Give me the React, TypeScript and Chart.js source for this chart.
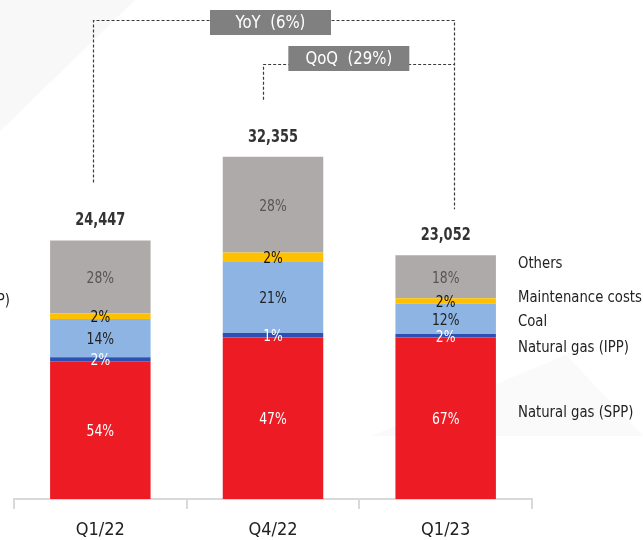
import React, { useEffect, useRef } from "react";
import { Chart, registerables } from "chart.js";

Chart.register(...registerables);

// ---------- data ----------
const categories = ["Q1/22", "Q4/22", "Q1/23"];
const totalLabels = ["24,447", "32,355", "23,052"];
const seriesNames = ["Natural gas (SPP)", "Natural gas (IPP)", "Coal", "Maintenance costs", "Others"];
const gasSPP = [13036, 15265, 15283];
const gasIPP = [360, 427, 323];
const coal = [3620, 6782, 2882];
const maintenance = [558, 841, 484];
const others = [6873, 9040, 4080];
const gasSPPPct = ["54%", "47%", "67%"];
const gasIPPPct = ["2%", "1%", "2%"];
const coalPct = ["14%", "21%", "12%"];
const maintenancePct = ["2%", "2%", "2%"];
const othersPct = ["28%", "28%", "18%"];
const yoyLabel = "YoY  (6%)";
const qoqLabel = "QoQ  (29%)";

const FONT = '"DejaVu Sans Condensed", "Liberation Sans Narrow", "Noto Sans", sans-serif';

const colors = ["#ED1C24", "#2E50B4", "#8DB4E2", "#FFC000", "#AEAAA9"];
const pctTextColors = ["#FFFFFF", "#FFFFFF", "#222222", "#111111", "#555555"];
const pctLabels = [gasSPPPct, gasIPPPct, coalPct, maintenancePct, othersPct];
const seriesData = [gasSPP, gasIPP, coal, maintenance, others];

function drawText(ctx: CanvasRenderingContext2D, text: string, x: number, y: number, font: string, color: string, sx: number, align: CanvasTextAlign) {
  ctx.save();
  ctx.translate(x, y);
  ctx.scale(sx, 1);
  ctx.font = font;
  ctx.fillStyle = color;
  ctx.textAlign = align;
  ctx.textBaseline = "middle";
  ctx.fillText(text, 0, 0);
  ctx.restore();
}

const overlayPlugin = {
  id: "overlay",
  beforeDraw(chart: any) {
    const ctx = chart.ctx;
    ctx.save();
    ctx.fillStyle = "#FFFFFF";
    ctx.fillRect(0, 0, chart.width, chart.height);
    // faint background watermark shapes
    ctx.fillStyle = "#F8F8F8";
    ctx.beginPath();
    ctx.moveTo(0, 0);
    ctx.lineTo(135, 0);
    ctx.lineTo(0, 131);
    ctx.closePath();
    ctx.fill();
    ctx.fillStyle = "#FAFAFA";
    ctx.beginPath();
    ctx.moveTo(566, 355);
    ctx.lineTo(643, 436);
    ctx.lineTo(371, 436);
    ctx.closePath();
    ctx.fill();
    ctx.restore();
  },
  afterDraw(chart: any) {
    const ctx = chart.ctx;
    const area = chart.chartArea;
    ctx.save();

    // percentage labels inside segments
    for (let d = 0; d < seriesData.length; d++) {
      const meta = chart.getDatasetMeta(d);
      meta.data.forEach((el: any, i: number) => {
        const yc = (el.y + el.base) / 2 + 2;
        drawText(ctx, pctLabels[d][i], el.x, yc, `16px ${FONT}`, pctTextColors[d], 0.86, "center");
      });
    }

    // totals above bars
    const topMeta = chart.getDatasetMeta(seriesData.length - 1);
    topMeta.data.forEach((el: any, i: number) => {
      drawText(ctx, totalLabels[i], el.x, el.y - 20, `bold 18px ${FONT}`, "#333333", 0.8, "center");
    });

    // legend labels at right
    const legendX = area.right - 14;
    const legendY = [413, 348, 322, 298, 264];
    seriesNames.forEach((name, i) => {
      drawText(ctx, name, legendX, legendY[i], `16px ${FONT}`, "#222222", 0.92, "left");
    });
    // cut-off label at left edge
    drawText(ctx, seriesNames[1], 10, 301, `16px ${FONT}`, "#222222", 0.92, "right");

    // YoY / QoQ brackets
    const b0 = topMeta.data[0];
    const b1 = topMeta.data[1];
    const b2 = topMeta.data[2];
    ctx.strokeStyle = "#3A3A3A";
    ctx.lineWidth = 1.2;
    ctx.setLineDash([3, 2]);
    const lx = Math.round(b0.x - 7.5) + 0.5;
    const rx = Math.round(b2.x + 8.5) + 0.5;
    const qx = Math.round(b1.x - 10) + 0.5;
    ctx.beginPath();
    ctx.moveTo(lx, b0.y - 58);
    ctx.lineTo(lx, 20.5);
    ctx.lineTo(rx, 20.5);
    ctx.lineTo(rx, b2.y - 46);
    ctx.stroke();
    ctx.beginPath();
    ctx.moveTo(qx, b1.y - 57);
    ctx.lineTo(qx, 64.5);
    ctx.lineTo(rx, 64.5);
    ctx.stroke();
    ctx.setLineDash([]);

    // label boxes
    const yoyCx = b1.x - 2.5;
    ctx.fillStyle = "#808080";
    ctx.fillRect(yoyCx - 60.5, 10, 121, 25);
    drawText(ctx, yoyLabel, yoyCx, 23, `18px ${FONT}`, "#FFFFFF", 0.92, "center");
    const qoqCx = (b1.x + b2.x) / 2 - 10.5;
    ctx.fillStyle = "#808080";
    ctx.fillRect(qoqCx - 60.5, 46, 121, 25);
    drawText(ctx, qoqLabel, qoqCx, 59, `18px ${FONT}`, "#FFFFFF", 0.92, "center");

    ctx.restore();
  },
};

export default function App() {
  const canvasRef = useRef<HTMLCanvasElement | null>(null);

  useEffect(() => {
    const canvas = canvasRef.current;
    if (!canvas) return;
    const chart = new Chart(canvas, {
      type: "bar",
      data: {
        labels: categories,
        datasets: seriesData.map((values, i) => ({
          label: seriesNames[i],
          data: values,
          backgroundColor: colors[i],
          borderWidth: 0,
          categoryPercentage: 0.582,
          barPercentage: 1,
        })),
      },
      options: {
        responsive: false,
        animation: false,
        devicePixelRatio: 1,
        layout: { padding: { top: 76, left: 14, right: 111, bottom: 0 } },
        plugins: {
          legend: { display: false },
          tooltip: { enabled: false },
          title: { display: false },
        },
        scales: {
          x: {
            stacked: true,
            offset: true,
            grid: {
              display: true,
              offset: true,
              drawOnChartArea: false,
              drawTicks: true,
              tickLength: 10,
              color: "#D9D9D9",
              lineWidth: 2,
            },
            border: { display: true, color: "#D9D9D9", width: 2 },
            ticks: {
              color: "#222222",
              padding: 12,
              font: { family: FONT, size: 18, lineHeight: 1 },
            },
          },
          y: {
            stacked: true,
            display: false,
            min: 0,
            max: 40000,
          },
        },
      },
      plugins: [overlayPlugin],
    });
    return () => chart.destroy();
  }, []);

  return (
    <div style={{ position: "absolute", left: 0, top: 0, width: 643, height: 540, overflow: "hidden" }}>
      <canvas ref={canvasRef} width={643} height={551} style={{ display: "block" }} />
    </div>
  );
}
